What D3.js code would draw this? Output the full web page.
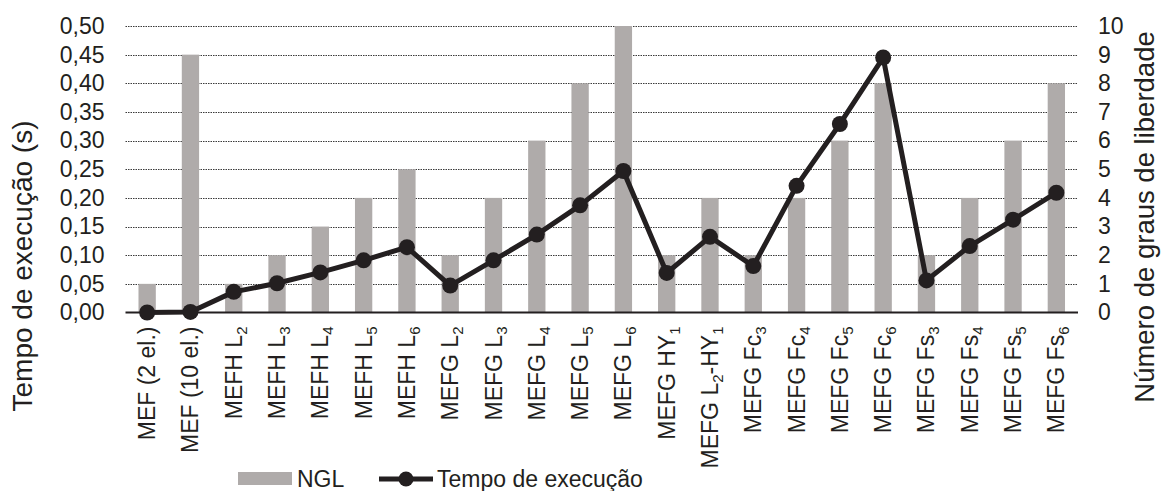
<!DOCTYPE html>
<html>
<head>
<meta charset="utf-8">
<script src="https://cdn.jsdelivr.net/npm/d3@7"></script>
<style>
  html, body { margin: 0; padding: 0; background: #fff; }
  svg { display: block; font-family: "Liberation Sans", Arial, sans-serif; }
</style>
</head>
<body>
<svg id="chart" width="1163" height="491"></svg>
<script>
// Method labels: [main text, subscript, text after subscript, second subscript]
const categories = [
  ["MEF (2 el.)"], ["MEF (10 el.)"],
  ["MEFH L", "2"], ["MEFH L", "3"], ["MEFH L", "4"], ["MEFH L", "5"], ["MEFH L", "6"],
  ["MEFG L", "2"], ["MEFG L", "3"], ["MEFG L", "4"], ["MEFG L", "5"], ["MEFG L", "6"],
  ["MEFG HY", "1"], ["MEFG L", "2", "-HY", "1"],
  ["MEFG Fc", "3"], ["MEFG Fc", "4"], ["MEFG Fc", "5"], ["MEFG Fc", "6"],
  ["MEFG Fs", "3"], ["MEFG Fs", "4"], ["MEFG Fs", "5"], ["MEFG Fs", "6"]
];

// Number of degrees of freedom (right axis)
const ngl = [1, 9, 1, 2, 3, 4, 5, 2, 4, 6, 8, 10, 2, 4, 2, 4, 6, 8, 2, 4, 6, 8];

// Execution time in seconds (left axis)
const tempo = [0.000, 0.001, 0.036, 0.051, 0.070, 0.091, 0.114, 0.047, 0.091, 0.136, 0.187, 0.247,
               0.069, 0.132, 0.081, 0.221, 0.329, 0.445, 0.056, 0.116, 0.162, 0.209];

const leftTicks = [0, 0.05, 0.10, 0.15, 0.20, 0.25, 0.30, 0.35, 0.40, 0.45, 0.50];
const rightTicks = [0, 1, 2, 3, 4, 5, 6, 7, 8, 9, 10];

const leftTitle = "Tempo de execução (s)";
const rightTitle = "Número de graus de liberdade";
const legendBar = "NGL";
const legendLine = "Tempo de execução";

const barColor = "#afabaa";
const inkColor = "#231f20";
const fontFamily = "Liberation Sans, Arial, sans-serif";

const svg = d3.select("#chart");
const plot = { left: 125.5, right: 1078, top: 26, bottom: 312.5 };
const ids = categories.map((c, i) => i);

const x = d3.scaleBand().domain(ids).range([plot.left, plot.right])
  .paddingInner(0.6).paddingOuter(0.3);
const cx = i => x(i) + x.bandwidth() / 2;

const yL = d3.scaleLinear().domain([0, 0.5]).range([plot.bottom, plot.top]);
const yR = d3.scaleLinear().domain([0, 10]).range([plot.bottom, plot.top]);

const fmt = v => d3.format(".2f")(v).replace(".", ",");

// dotted gridlines
svg.append("g").selectAll("line").data(leftTicks.slice(1)).join("line")
  .attr("x1", plot.left).attr("x2", plot.right)
  .attr("y1", d => Math.round(yL(d)) + 0.5).attr("y2", d => Math.round(yL(d)) + 0.5)
  .attr("stroke", "#3a3a3a").attr("stroke-width", 1)
  .attr("stroke-dasharray", "1.5,1");

// left axis
const gL = svg.append("g").attr("transform", `translate(${plot.left},0)`)
  .call(d3.axisLeft(yL).tickValues(leftTicks).tickFormat(fmt).tickSize(0).tickPadding(21));
gL.select(".domain").remove();
gL.attr("font-family", fontFamily);
gL.selectAll("text").attr("font-size", 23).attr("fill", inkColor);

// right axis
const gR = svg.append("g").attr("transform", `translate(${plot.right},0)`)
  .call(d3.axisRight(yR).tickValues(rightTicks).tickFormat(d3.format("d")).tickSize(0).tickPadding(20));
gR.select(".domain").remove();
gR.attr("font-family", fontFamily);
gR.selectAll("text").attr("font-size", 23).attr("fill", inkColor);

// NGL bars
svg.append("g").selectAll("rect").data(ngl).join("rect")
  .attr("x", (d, i) => x(i)).attr("width", x.bandwidth())
  .attr("y", d => yR(d)).attr("height", d => yR(0) - yR(d))
  .attr("fill", barColor);

// baseline
svg.append("line")
  .attr("x1", plot.left).attr("x2", plot.right)
  .attr("y1", plot.bottom).attr("y2", plot.bottom)
  .attr("stroke", inkColor).attr("stroke-width", 2.2);

// execution time line with markers
const line = d3.line().x((d, i) => cx(i)).y(d => yL(d));
svg.append("path").datum(tempo)
  .attr("d", line).attr("fill", "none")
  .attr("stroke", inkColor).attr("stroke-width", 5).attr("stroke-linejoin", "round");
svg.append("g").selectAll("circle").data(tempo).join("circle")
  .attr("cx", (d, i) => cx(i)).attr("cy", d => yL(d)).attr("r", 8)
  .attr("fill", inkColor);

// category labels, rotated
const xl = svg.append("g").selectAll("text").data(categories).join("text")
  .attr("transform", (d, i) => `translate(${cx(i) + 8},${plot.bottom + 14}) rotate(-90)`)
  .attr("text-anchor", "end")
  .attr("font-size", 23).attr("fill", inkColor);
xl.each(function (d) {
  const t = d3.select(this);
  d.forEach((part, k) => {
    const sub = k % 2 === 1;
    t.append("tspan").text(part)
      .attr("font-size", sub ? 15 : 23)
      .attr("dy", sub ? 5 : (k > 0 ? -5 : 0));
  });
});

// axis titles
svg.append("text")
  .attr("transform", `translate(32,266) rotate(-90)`)
  .attr("text-anchor", "middle").attr("font-size", 28).attr("fill", inkColor)
  .text(leftTitle);
svg.append("text")
  .attr("transform", `translate(1154,217) rotate(-90)`)
  .attr("text-anchor", "middle").attr("font-size", 27.5).attr("fill", inkColor)
  .text(rightTitle);

// legend
const lg = svg.append("g");
lg.append("rect").attr("x", 238).attr("y", 472).attr("width", 54).attr("height", 13).attr("fill", barColor);
lg.append("text").attr("x", 297).attr("y", 487).attr("font-size", 23).attr("fill", inkColor).text(legendBar);
lg.append("line").attr("x1", 379).attr("x2", 433).attr("y1", 479).attr("y2", 479)
  .attr("stroke", inkColor).attr("stroke-width", 5);
lg.append("circle").attr("cx", 406).attr("cy", 479).attr("r", 7.5).attr("fill", inkColor);
lg.append("text").attr("x", 437).attr("y", 487).attr("font-size", 23).attr("fill", inkColor).text(legendLine);
</script>
</body>
</html>
